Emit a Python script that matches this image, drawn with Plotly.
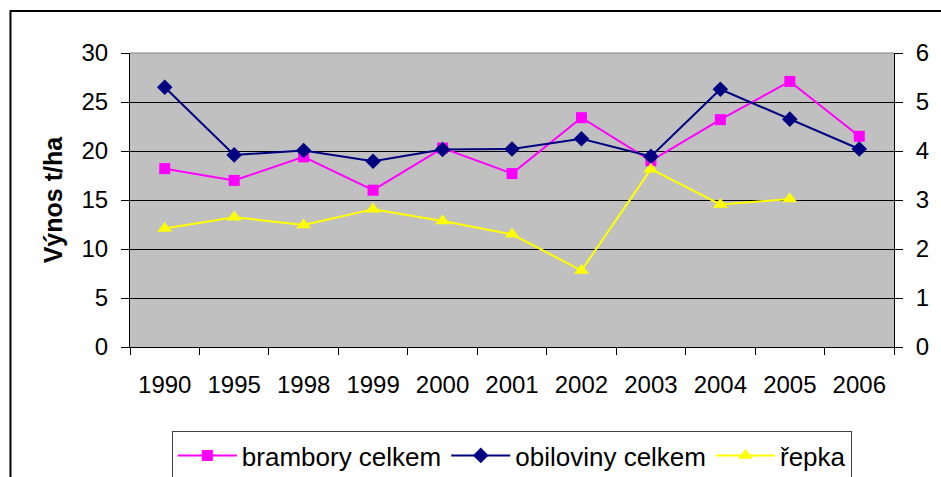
import plotly.graph_objects as go

years = ["1990", "1995", "1998", "1999", "2000", "2001", "2002", "2003", "2004", "2005", "2006"]
brambory = [18.2, 17.0, 19.4, 16.0, 20.3, 17.7, 23.4, 19.0, 23.2, 27.1, 21.5]
obiloviny = [5.30, 3.92, 4.01, 3.79, 4.03, 4.04, 4.25, 3.89, 5.26, 4.65, 4.04]
repka = [2.42, 2.65, 2.49, 2.81, 2.57, 2.30, 1.56, 3.63, 2.91, 3.02, None]

FONT = "Arial, Liberation Sans, sans-serif"

fig = go.Figure()
fig.add_trace(go.Scatter(
    x=years, y=brambory, name="brambory celkem", mode="lines+markers",
    line=dict(color="#FF00FF", width=2),
    marker=dict(symbol="square", size=11, color="#FF00FF"),
    yaxis="y"))
fig.add_trace(go.Scatter(
    x=years, y=obiloviny, name="obiloviny celkem", mode="lines+markers",
    line=dict(color="#000080", width=2),
    marker=dict(symbol="diamond", size=12, color="#000080"),
    yaxis="y2"))
fig.add_trace(go.Scatter(
    x=years, y=repka, name="řepka", mode="lines+markers",
    line=dict(color="#FFFF00", width=2),
    marker=dict(symbol="triangle-up", size=13, color="#FFFF00"),
    yaxis="y2"))

# figure is taller than the 477px window; the page clips the bottom like the reference
W, H = 941, 510
L, R, T, B = 130, 897, 53, 347
pw, ph = R - L, B - T

def px(x):
    return (x - L) / pw

def py(y):
    return (B - y) / ph

fig.update_layout(
    width=W, height=H,
    margin=dict(l=L, r=W - R, t=T, b=H - B),
    paper_bgcolor="white",
    plot_bgcolor="#C0C0C0",
    font=dict(family=FONT, size=24, color="black"),
    showlegend=True,
    legend=dict(
        orientation="h", x=px(172), y=py(431), xanchor="left", yanchor="top",
        bordercolor="#404040", borderwidth=1, bgcolor="white",
        font=dict(family=FONT, size=26, color="black"),
        itemwidth=59, tracegroupgap=0,
    ),
    xaxis=dict(
        type="category", range=[-0.5, len(years) - 0.5],
        tickson="boundaries", ticks="outside", ticklen=7,
        tickcolor="black", showline=True, linecolor="black", linewidth=1,
        showgrid=False, tickfont=dict(size=24), ticklabelstandoff=16,
    ),
    yaxis=dict(
        range=[0, 30], dtick=5, ticks="outside", ticklen=8, tickcolor="black",
        showline=True, linecolor="black", linewidth=1,
        showgrid=True, gridcolor="black", gridwidth=1, zeroline=False,
        tickfont=dict(size=24), ticklabelstandoff=8,
    ),
    yaxis2=dict(
        range=[0, 6], dtick=1, overlaying="y", side="right",
        ticks="outside", ticklen=8, tickcolor="black",
        showline=True, linecolor="black", linewidth=1,
        showgrid=False, zeroline=False, tickfont=dict(size=24),
        ticklabelstandoff=8,
    ),
    annotations=[dict(
        text="<b>Výnos t/ha</b>", textangle=-90, showarrow=False,
        xref="paper", yref="paper", x=px(53), y=py(199),
        xanchor="center", yanchor="middle",
        font=dict(family=FONT, size=25, color="black"),
    )],
    shapes=[
        dict(type="line", xref="paper", yref="paper", x0=0, x1=1, y0=1, y1=1,
             line=dict(color="#808080", width=1)),
        dict(type="path", xref="paper", yref="paper",
             path=f"M {px(10)} {py(510)} L {px(10)} {py(11)} L {px(960)} {py(11)}",
             line=dict(color="black", width=2)),
    ],
)

fig.write_html(
    "out.html",
    config={"displayModeBar": False},
    post_script="document.body.style.margin='0';document.body.style.overflow='hidden';",
)
